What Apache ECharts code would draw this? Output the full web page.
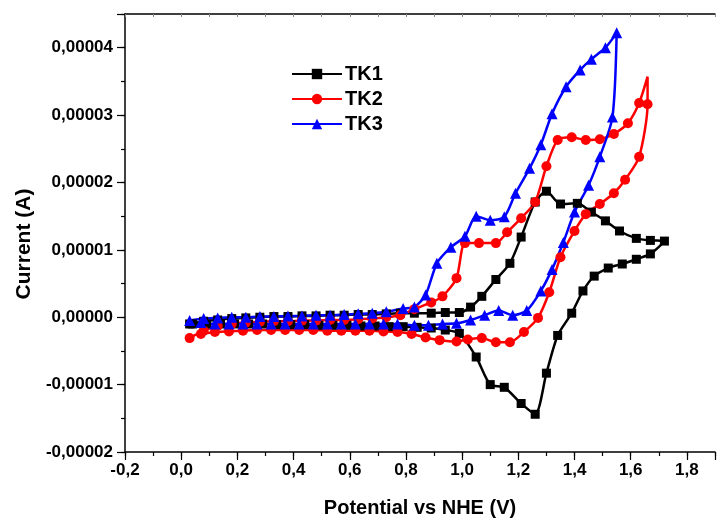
<!DOCTYPE html>
<html>
<head>
<meta charset="utf-8">
<script src="https://cdn.jsdelivr.net/npm/echarts@6/dist/echarts.min.js"></script>
<style>
html,body{margin:0;padding:0;background:#fff;}
#chart{width:718px;height:524px;}
</style>
</head>
<body>
<div id="chart"></div>
<script>
// ---- data (potential in V, current in A) ----
const tk1Potential = [0.03,0.08,0.13,0.18,0.23,0.28,0.33,0.38,0.43,0.48,0.53,0.58,0.63,0.68,0.73,0.78,0.83,0.89,0.94,0.99,1.03,1.07,1.12,1.17,1.21,1.26,1.30,1.35,1.41,1.46,1.51,1.56,1.62,1.67,1.72,
  1.67,1.62,1.57,1.52,1.47,1.43,1.39,1.34,1.30,1.26,1.21,1.15,1.10,1.05,0.99,0.94,0.89,0.84,0.79,0.74,0.69,0.64,0.59,0.54,0.49,0.44,0.39,0.34,0.29,0.24,0.19,0.14,0.09,0.04];
const tk1Current = [-0.10e-5,-0.06e-5,-0.04e-5,-0.02e-5,-0.01e-5,0.00e-5,0.01e-5,0.01e-5,0.02e-5,0.02e-5,0.03e-5,0.03e-5,0.04e-5,0.04e-5,0.05e-5,0.06e-5,0.06e-5,0.06e-5,0.07e-5,0.07e-5,0.15e-5,0.31e-5,0.56e-5,0.80e-5,1.19e-5,1.71e-5,1.87e-5,1.68e-5,1.69e-5,1.56e-5,1.43e-5,1.28e-5,1.17e-5,1.14e-5,1.13e-5,
  0.94e-5,0.86e-5,0.79e-5,0.73e-5,0.61e-5,0.39e-5,0.06e-5,-0.27e-5,-0.83e-5,-1.44e-5,-1.28e-5,-1.04e-5,-1.00e-5,-0.59e-5,-0.24e-5,-0.19e-5,-0.16e-5,-0.15e-5,-0.14e-5,-0.14e-5,-0.13e-5,-0.13e-5,-0.12e-5,-0.12e-5,-0.12e-5,-0.11e-5,-0.11e-5,-0.11e-5,-0.10e-5,-0.10e-5,-0.10e-5,-0.10e-5,-0.10e-5,-0.10e-5];

const tk2Potential = [0.03,0.08,0.13,0.18,0.23,0.28,0.33,0.38,0.43,0.48,0.53,0.58,0.63,0.68,0.73,0.78,0.83,0.89,0.93,0.98,1.01,1.06,1.12,1.16,1.21,1.26,1.30,1.34,1.39,1.44,1.49,1.54,1.59,1.63,1.66,
  1.66,1.63,1.58,1.54,1.49,1.44,1.40,1.35,1.31,1.27,1.22,1.17,1.12,1.07,1.02,0.98,0.92,0.87,0.82,0.77,0.72,0.67,0.62,0.57,0.52,0.47,0.42,0.37,0.32,0.27,0.22,0.17,0.12,0.07];
const tk2Current = [-0.31e-5,-0.20e-5,-0.13e-5,-0.10e-5,-0.08e-5,-0.07e-5,-0.06e-5,-0.06e-5,-0.05e-5,-0.05e-5,-0.04e-5,-0.04e-5,-0.03e-5,-0.02e-5,0.00e-5,0.03e-5,0.12e-5,0.22e-5,0.31e-5,0.58e-5,1.10e-5,1.10e-5,1.10e-5,1.26e-5,1.47e-5,1.71e-5,2.24e-5,2.63e-5,2.67e-5,2.63e-5,2.64e-5,2.72e-5,2.88e-5,3.18e-5,3.57e-5,
  3.16e-5,2.38e-5,2.04e-5,1.84e-5,1.68e-5,1.53e-5,1.28e-5,0.89e-5,0.37e-5,-0.01e-5,-0.22e-5,-0.37e-5,-0.37e-5,-0.31e-5,-0.33e-5,-0.36e-5,-0.34e-5,-0.30e-5,-0.25e-5,-0.22e-5,-0.21e-5,-0.20e-5,-0.20e-5,-0.20e-5,-0.20e-5,-0.19e-5,-0.19e-5,-0.19e-5,-0.19e-5,-0.19e-5,-0.20e-5,-0.21e-5,-0.22e-5,-0.25e-5];

const tk3Potential = [0.03,0.08,0.13,0.18,0.23,0.28,0.33,0.38,0.43,0.48,0.53,0.58,0.63,0.68,0.73,0.79,0.83,0.87,0.91,0.96,1.01,1.05,1.10,1.15,1.19,1.24,1.28,1.32,1.37,1.42,1.46,1.51,1.55,
  1.535,1.49,1.45,1.40,1.36,1.32,1.28,1.23,1.18,1.13,1.08,1.03,0.98,0.93,0.88,0.83,0.77,0.72,0.67,0.62,0.57,0.52,0.47,0.42,0.37,0.32,0.27,0.22,0.17,0.12,0.07];
const tk3Current = [-0.05e-5,-0.02e-5,-0.01e-5,0.00e-5,0.00e-5,0.01e-5,0.01e-5,0.02e-5,0.02e-5,0.03e-5,0.03e-5,0.04e-5,0.05e-5,0.06e-5,0.08e-5,0.13e-5,0.15e-5,0.33e-5,0.80e-5,1.04e-5,1.20e-5,1.50e-5,1.44e-5,1.49e-5,1.84e-5,2.21e-5,2.56e-5,3.02e-5,3.42e-5,3.67e-5,3.83e-5,4.00e-5,4.22e-5,
  2.97e-5,2.38e-5,1.96e-5,1.56e-5,1.11e-5,0.71e-5,0.39e-5,0.10e-5,0.03e-5,0.10e-5,0.03e-5,-0.04e-5,-0.09e-5,-0.10e-5,-0.12e-5,-0.12e-5,-0.10e-5,-0.10e-5,-0.10e-5,-0.10e-5,-0.10e-5,-0.10e-5,-0.10e-5,-0.10e-5,-0.10e-5,-0.10e-5,-0.10e-5,-0.10e-5,-0.10e-5,-0.10e-5,-0.08e-5];

const seriesNames = ['TK1','TK2','TK3'];
const xTickValues = [-0.2,0,0.2,0.4,0.6,0.8,1.0,1.2,1.4,1.6,1.8];
const yTickValues = [-2e-5,-1e-5,0,1e-5,2e-5,3e-5,4e-5];
const xTitle = 'Potential vs NHE (V)';
const yTitle = 'Current (A)';

// ---- chart ----
const FONT = '"Liberation Sans", Arial, sans-serif';
function zip(xs, ys){ return xs.map((x,i)=>[x, ys[i]]); }
function near(v, list, eps){ return list.some(t => Math.abs(t - v) < eps); }

// TK2 turning point drawn without a marker (as in the reference)
const tk2Data = zip(tk2Potential, tk2Current);
const tk2Tip = tk2Current.indexOf(Math.max.apply(null, tk2Current));
tk2Data[tk2Tip] = {value: tk2Data[tk2Tip], symbol: 'none'};

const chart = echarts.init(document.getElementById('chart'), null, {renderer:'canvas'});
const axisColor = '#000';
const xCommon = {type:'value', min:-0.2, max:1.9, splitLine:{show:false}};
const yCommon = {type:'value', min:-2e-5, max:4.5e-5, splitLine:{show:false}};

chart.setOption({
  animation:false,
  backgroundColor:'#fff',
  grid:{left:125, right:0, top:14, bottom:72, containLabel:false},
  legend:{
    data:seriesNames, orient:'vertical', left:286, top:59, padding:5,
    itemWidth:50, itemHeight:13, itemGap:5,
    textStyle:{fontFamily:FONT, fontWeight:'bold', fontSize:20, color:'#000', padding:[0,0,0,-2]}
  },
  xAxis:[
    Object.assign({}, xCommon, {
      position:'bottom', interval:0.2,
      name:xTitle, nameLocation:'middle', nameGap:46,
      nameTextStyle:{fontFamily:FONT, fontWeight:'bold', fontSize:20, color:'#000'},
      axisLine:{show:true, onZero:false, lineStyle:{color:axisColor, width:1.5}},
      axisTick:{show:true, inside:false, length:8, lineStyle:{color:axisColor, width:1.2}},
      axisLabel:{margin:10, fontFamily:FONT, fontWeight:'bold', fontSize:17, color:'#000',
        formatter:v => near(v, xTickValues, 1e-6) ? v.toFixed(1).replace('.', ',') : ''}
    }),
    Object.assign({}, xCommon, {
      position:'bottom', interval:0.1,
      axisLine:{show:false, onZero:false},
      axisTick:{show:true, inside:false, length:4, lineStyle:{color:axisColor, width:1.2}},
      axisLabel:{show:false}
    }),
    Object.assign({}, xCommon, {
      position:'top', interval:0.1,
      axisLine:{show:true, onZero:false, lineStyle:{color:axisColor, width:1.5}},
      axisTick:{show:true, inside:true, length:3, lineStyle:{color:'#888', width:1}},
      axisLabel:{show:false}
    })
  ],
  yAxis:[
    Object.assign({}, yCommon, {
      position:'left', interval:1e-5,
      name:yTitle, nameLocation:'middle', nameGap:80, nameRotate:90,
      nameTextStyle:{fontFamily:FONT, fontWeight:'bold', fontSize:21, color:'#000', padding:[0,22,0,0]},
      axisLine:{show:true, onZero:false, lineStyle:{color:axisColor, width:1.5}},
      axisTick:{show:true, inside:false, length:8, lineStyle:{color:axisColor, width:1.2}},
      axisLabel:{margin:12, fontFamily:FONT, fontWeight:'bold', fontSize:17, color:'#000',
        formatter:v => near(v, yTickValues, 1e-9) ? v.toFixed(5).replace('.', ',') : ''}
    }),
    Object.assign({}, yCommon, {
      position:'left', interval:0.5e-5,
      axisLine:{show:false, onZero:false},
      axisTick:{show:true, inside:false, length:4, lineStyle:{color:axisColor, width:1.2}},
      axisLabel:{show:false}
    })
  ],
  series:[
    {name:'TK1', type:'line', xAxisIndex:0, yAxisIndex:0, data:zip(tk1Potential, tk1Current),
      symbol:'rect', symbolSize:9, smooth:0.25, color:'#000000',
      lineStyle:{width:2.5, color:'#000000'}, itemStyle:{color:'#000000'}},
    {name:'TK2', type:'line', xAxisIndex:0, yAxisIndex:0, data:tk2Data,
      symbol:'circle', symbolSize:10, smooth:0.25, color:'#ff0000',
      lineStyle:{width:2.5, color:'#ff0000'}, itemStyle:{color:'#ff0000'}},
    {name:'TK3', type:'line', xAxisIndex:0, yAxisIndex:0, data:zip(tk3Potential, tk3Current),
      symbol:'triangle', symbolSize:11, smooth:0.25, color:'#0000ff',
      lineStyle:{width:2.5, color:'#0000ff'}, itemStyle:{color:'#0000ff'}}
  ]
});
</script>
</body>
</html>
